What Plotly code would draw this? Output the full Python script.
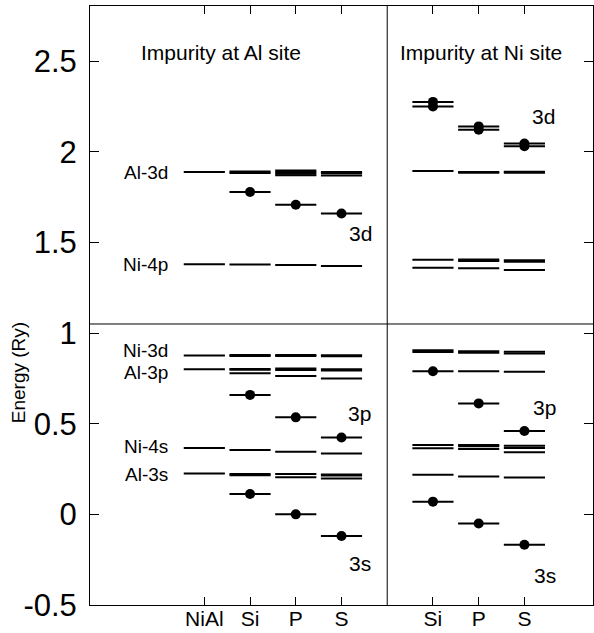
import plotly.graph_objects as go

# ---------------- data ----------------
al_site_cats = ["NiAl", "Si", "P", "S"]
ni_site_cats = ["Si", "P", "S"]

# host-like levels (plain bars), Impurity at Al site
al_NiAl = [1.888, 1.380, 0.876, 0.800, 0.366, 0.225]
al_Si = [1.891, 1.883, 1.378, 0.879, 0.873, 0.802, 0.797, 0.778, 0.355, 0.222, 0.215]
al_P = [1.897, 1.888, 1.879, 1.870, 1.375, 0.879, 0.873, 0.804, 0.796, 0.763, 0.345, 0.222, 0.204]
al_S = [1.888, 1.881, 1.869, 1.370, 0.878, 0.872, 0.800, 0.793, 0.749, 0.336, 0.220, 0.214, 0.198]
# impurity levels (bars with dots), Impurity at Al site
al_imp_Si = [1.778, 0.659, 0.112]
al_imp_P = [1.708, 0.535, 0.000]
al_imp_S = [1.659, 0.424, -0.119]

# host-like levels, Impurity at Ni site
ni_Si = [1.894, 1.405, 1.360, 0.905, 0.895, 0.382, 0.365, 0.218]
ni_P = [1.889, 1.884, 1.406, 1.398, 1.357, 0.900, 0.892, 0.789, 0.382, 0.375, 0.360, 0.209]
ni_S = [1.890, 1.884, 1.402, 1.394, 1.348, 0.897, 0.887, 0.786, 0.378, 0.366, 0.342, 0.203]
# impurity levels, Impurity at Ni site
ni_imp_Si = [2.275, 2.250, 0.789, 0.070]
ni_imp_P = [2.140, 2.122, 0.612, -0.050]
ni_imp_S = [2.045, 2.030, 0.460, -0.168]

host_labels = ["Al-3d", "Ni-4p", "Ni-3d", "Al-3p", "Ni-4s", "Al-3s"]
host_label_y = [1.888, 1.380, 0.905, 0.785, 0.372, 0.222]

orbital_labels = ["3d", "3p", "3s", "3d", "3p", "3s"]
orbital_label_x = [5.91, 5.89, 5.91, 9.91, 9.94, 9.94]
orbital_label_y = [1.551, 0.555, -0.27, 2.196, 0.59, -0.335]

y_ticks = [-0.5, 0, 0.5, 1, 1.5, 2, 2.5]
y_ticktext = ["-0.5", "0", "0.5", "1", "1.5", "2", "2.5"]

# ---------------- layout positions ----------------
pos_al = [2.5, 3.5, 4.5, 5.5]
pos_ni = [7.5, 8.5, 9.5]
half = 0.45
divider_x = 6.5
divider_y = 1.05

font = "Liberation Sans, Arial, Helvetica, sans-serif"

fig = go.Figure()


def bars(xc, ys, dots=False):
    xs, yy = [], []
    for y in ys:
        xs += [xc - half, xc + half, None]
        yy += [y, y, None]
    fig.add_trace(go.Scatter(x=xs, y=yy, mode="lines",
                             line=dict(color="black", width=2),
                             showlegend=False, hoverinfo="skip"))
    if dots:
        fig.add_trace(go.Scatter(x=[xc] * len(ys), y=ys, mode="markers",
                                 marker=dict(color="black", size=10),
                                 showlegend=False, hoverinfo="skip"))


for xc, ys in zip(pos_al, [al_NiAl, al_Si, al_P, al_S]):
    bars(xc, ys)
for xc, ys in zip(pos_al[1:], [al_imp_Si, al_imp_P, al_imp_S]):
    bars(xc, ys, dots=True)
for xc, ys in zip(pos_ni, [ni_Si, ni_P, ni_S]):
    bars(xc, ys)
for xc, ys in zip(pos_ni, [ni_imp_Si, ni_imp_P, ni_imp_S]):
    bars(xc, ys, dots=True)

ann = []
for t, y in zip(host_labels, host_label_y):
    ann.append(dict(x=1.74, y=y, text=t, xanchor="right", yanchor="middle",
                    showarrow=False, font=dict(size=19, color="black", family=font)))
ann.append(dict(x=2.86, y=2.55, text="Impurity at Al site", showarrow=False,
                font=dict(size=21, color="black", family=font)))
ann.append(dict(x=8.55, y=2.55, text="Impurity at Ni site", showarrow=False,
                font=dict(size=21, color="black", family=font)))
for t, x, y in zip(orbital_labels, orbital_label_x, orbital_label_y):
    ann.append(dict(x=x, y=y, text=t, showarrow=False,
                    font=dict(size=21, color="black", family=font)))
ann.append(dict(x=-0.143, y=0.387, xref="paper", yref="paper", text="Energy (Ry)",
                xanchor="center", yanchor="middle",
                textangle=-90, showarrow=False,
                font=dict(size=19, color="black", family=font)))

shapes = [
    dict(type="line", x0=divider_x, x1=divider_x, y0=0, y1=1, xref="x", yref="paper",
         line=dict(color="black", width=1)),
    dict(type="line", x0=0, x1=1, y0=divider_y, y1=divider_y, xref="paper", yref="y",
         line=dict(color="black", width=1)),
]

fig.update_layout(
    width=594, height=633,
    margin=dict(l=90, r=1, t=6, b=28),
    plot_bgcolor="white", paper_bgcolor="white",
    annotations=ann, shapes=shapes,
    xaxis=dict(range=[0, 11], tickvals=pos_al + pos_ni,
               ticktext=al_site_cats + ni_site_cats,
               ticks="inside", ticklen=8, tickcolor="black",
               showline=True, linecolor="black", linewidth=1, mirror="ticks",
               showgrid=False, zeroline=False, automargin=False,
               ticklabelstandoff=-5,
               tickfont=dict(size=21, color="black", family=font)),
    yaxis=dict(range=[-0.5, 2.804], tickvals=y_ticks, ticktext=y_ticktext,
               ticks="inside", ticklen=9, tickcolor="black",
               showline=True, linecolor="black", linewidth=1, mirror="ticks",
               showgrid=False, zeroline=False, ticklabelstandoff=6, automargin=False,
               tickfont=dict(size=31, color="black", family=font)),
)

fig.write_html("out.html", config={"displayModeBar": False},
               post_script="document.body.style.margin='0';document.body.style.overflow='hidden';")
